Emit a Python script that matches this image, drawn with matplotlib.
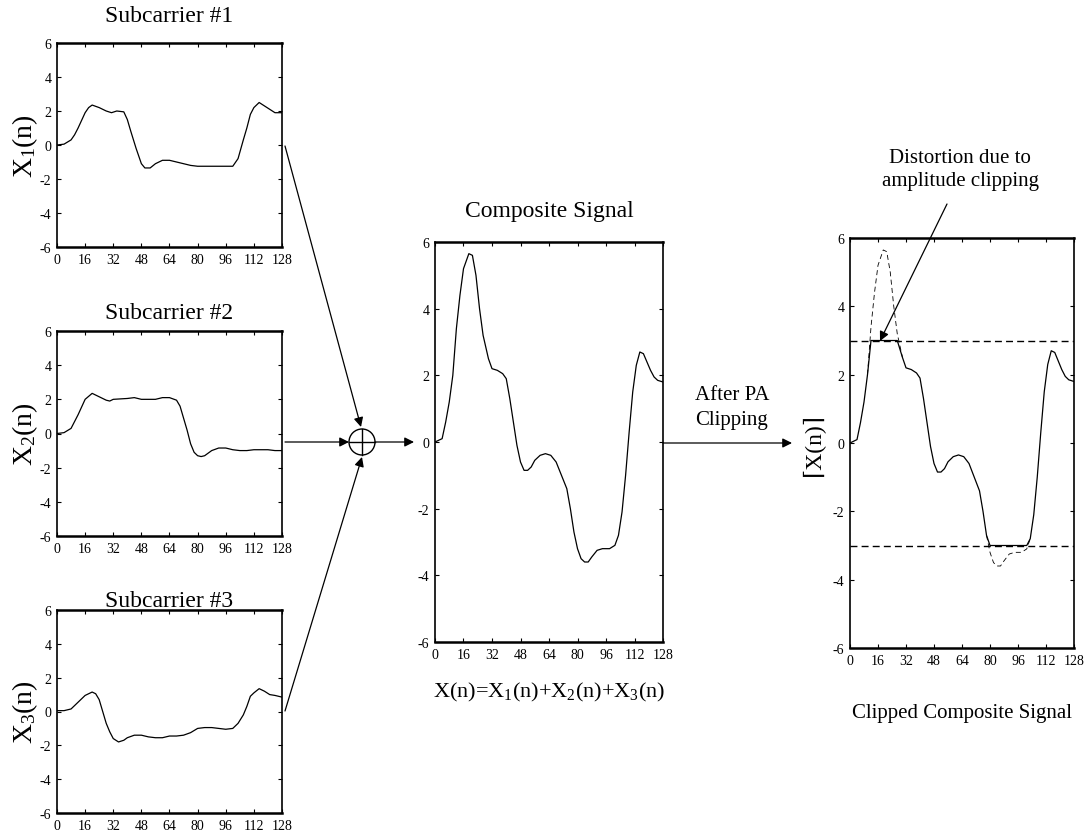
import numpy as np
import matplotlib
matplotlib.use('Agg')
import matplotlib.pyplot as plt
from matplotlib.patches import Circle

plt.rcParams['font.family'] = ['Liberation Serif', 'DejaVu Serif']
plt.rcParams['mathtext.fontset'] = 'custom'
plt.rcParams['mathtext.rm'] = 'Liberation Serif'
plt.rcParams['mathtext.it'] = 'Liberation Serif'
plt.rcParams['axes.unicode_minus'] = False

# subcarrier waveforms (sample index, amplitude)
n1 = [0, 4, 8, 10, 12, 16, 18, 20, 24, 28, 31, 34, 38, 40, 42, 45, 48, 50, 53, 56,
      60, 64, 68, 72, 76, 80, 88, 96, 100, 103, 106, 108, 110, 112, 115, 118, 121, 124, 128]
x1 = [0.0, 0.05, 0.3, 0.6, 1.0, 1.9, 2.2, 2.35, 2.2, 2.0, 1.9, 2.0, 1.95, 1.5, 0.8, -0.2,
      -1.1, -1.35, -1.35, -1.1, -0.9, -0.9, -1.0, -1.1, -1.2, -1.25, -1.25, -1.25, -1.25,
      -0.8, 0.3, 1.0, 1.8, 2.2, 2.5, 2.3, 2.1, 1.9, 1.9]

n2 = [0, 4, 8, 10, 12, 16, 20, 24, 28, 30, 32, 40, 44, 48, 56, 60, 64, 68, 70, 72, 74,
      76, 78, 80, 82, 84, 88, 92, 96, 100, 104, 108, 112, 116, 120, 124, 128]
x2 = [0.0, 0.05, 0.3, 0.7, 1.1, 2.0, 2.35, 2.15, 1.95, 1.9, 2.0, 2.05, 2.1, 2.0, 2.0,
      2.1, 2.1, 1.95, 1.6, 0.9, 0.2, -0.6, -1.1, -1.3, -1.35, -1.3, -1.0, -0.85, -0.85,
      -0.95, -1.0, -1.0, -0.95, -0.95, -0.95, -1.0, -1.0]

n3 = [0, 4, 8, 12, 16, 20, 22, 24, 26, 28, 30, 32, 35, 38, 40, 44, 48, 52, 56, 60, 64,
      68, 72, 76, 80, 84, 88, 92, 96, 100, 103, 106, 108, 110, 112, 115, 118, 121, 124, 128]
x3 = [0.05, 0.05, 0.15, 0.55, 0.95, 1.15, 1.05, 0.7, 0.0, -0.7, -1.2, -1.6, -1.8, -1.7,
      -1.55, -1.4, -1.4, -1.5, -1.55, -1.55, -1.45, -1.45, -1.4, -1.25, -1.0, -0.95,
      -0.95, -1.0, -1.05, -1.0, -0.7, -0.2, 0.3, 0.9, 1.1, 1.35, 1.2, 1.0, 0.95, 0.85]

# composite signal
nc = [0, 4, 6, 8, 10, 12, 14, 16, 19, 21, 23, 25, 27, 30, 32, 35, 38, 40, 42, 44, 46,
      48, 50, 52, 54, 56, 59, 62, 65, 68, 71, 74, 76, 78, 80, 82, 84, 86, 88, 91, 94,
      98, 101, 103, 105, 107, 109, 111, 113, 115, 117, 119, 121, 123, 125, 128]
xc = [0.0, 0.1, 0.6, 1.2, 2.0, 3.4, 4.4, 5.2, 5.65, 5.6, 5.0, 4.0, 3.2, 2.5, 2.2, 2.15,
      2.05, 1.9, 1.3, 0.6, -0.1, -0.6, -0.85, -0.85, -0.75, -0.55, -0.4, -0.35, -0.4,
      -0.6, -1.0, -1.4, -2.0, -2.7, -3.2, -3.5, -3.6, -3.6, -3.45, -3.25, -3.2, -3.2,
      -3.1, -2.8, -2.1, -1.0, 0.3, 1.5, 2.3, 2.7, 2.65, 2.4, 2.15, 1.95, 1.85, 1.8]

clip_level = 3.0
xticks = [0, 16, 32, 48, 64, 80, 96, 112, 128]
yticks = [-6, -4, -2, 0, 2, 4, 6]

W, H = 1092, 837
fig = plt.figure(figsize=(W / 100, H / 100), dpi=100)


def px_axes(l, t, r, b):
    return fig.add_axes([l / W, 1 - b / H, (r - l) / W, (b - t) / H])


def style(ax):
    ax.set_xlim(0, 128)
    ax.set_ylim(-6, 6)
    ax.set_xticks(xticks)
    ax.set_yticks(yticks)
    ax.tick_params(direction='in', length=3, width=0.8, top=True, right=True,
                   labelsize=10, pad=4)
    for side in ['left', 'right']:
        ax.spines[side].set_linewidth(1.2)
    for side in ['top', 'bottom']:
        ax.spines[side].set_linewidth(1.8)


subs = [(n1, x1, 44, 248, 'Subcarrier #1', r'X$_1$(n)', 16),
        (n2, x2, 332, 537, 'Subcarrier #2', r'X$_2$(n)', 9),
        (n3, x3, 611, 814, 'Subcarrier #3', r'X$_3$(n)', 3)]
for n, x, t, b, title, lab, tpad in subs:
    ax = px_axes(57, t, 282, b)
    ax.plot(n, x, color='k', lw=0.9)
    style(ax)
    ax.set_title(title, fontsize=17, pad=tpad)
    ax.set_ylabel(lab, fontsize=20, labelpad=0)

# composite
axc = px_axes(435, 243, 663, 643)
axc.plot(nc, xc, color='k', lw=0.9)
style(axc)
axc.set_title('Composite Signal', fontsize=17, pad=19)
axc.set_xlabel(r'X(n)=X$_1$(n)+X$_2$(n)+X$_3$(n)', fontsize=16, labelpad=14)

# clipped composite
nc_arr = np.array(nc, dtype=float)
xc_arr = np.array(xc)
axk = px_axes(850, 239, 1074, 649)
over = np.abs(xc_arr) > clip_level
keep = over | np.roll(over, 1) | np.roll(over, -1)
axk.plot(nc_arr, np.where(keep, xc_arr, np.nan), color='k', lw=0.6,
         dashes=(6, 4))
axk.plot(nc_arr, np.clip(xc_arr, -clip_level, clip_level), color='k', lw=0.9)
axk.axhline(clip_level, color='k', lw=1.0, dashes=(5, 3))
axk.axhline(-clip_level, color='k', lw=1.0, dashes=(5, 3))
style(axk)
axk.set_ylabel('\u2308X(n)\u2309', fontsize=17, labelpad=6)
axk.set_xlabel('Clipped Composite Signal', fontsize=15, labelpad=26)

# block diagram overlay in pixel coordinates
ov = fig.add_axes([0, 0, 1, 1], facecolor='none')
ov.set_xlim(0, W)
ov.set_ylim(H, 0)
ov.axis('off')

cx, cy, r = 362, 443, 13
ov.add_patch(Circle((cx, cy), r, fill=False, ec='k', lw=1.0))
ov.plot([cx - r, cx + r], [cy, cy], color='k', lw=1.0)
ov.plot([cx, cx], [cy - r, cy + r], color='k', lw=1.0)

arrow = dict(arrowstyle='-|>', color='k', lw=0.9, mutation_scale=14,
             shrinkA=0, shrinkB=0)
ov.annotate('', xy=(cx - 1, cy - r - 2), xytext=(285, 147), arrowprops=arrow)
ov.annotate('', xy=(cx - r, cy), xytext=(285, cy), arrowprops=arrow)
ov.annotate('', xy=(cx, cy + r + 2), xytext=(285, 712), arrowprops=arrow)
ov.annotate('', xy=(414, cy), xytext=(cx + r, cy), arrowprops=arrow)
ov.annotate('', xy=(792, cy + 1), xytext=(663, cy + 1), arrowprops=arrow)
ov.text(732, 408, 'After PA\nClipping', ha='center', va='center', fontsize=15,
        linespacing=1.45)

ov.text(960, 170, 'Distortion due to\namplitude clipping', ha='center',
        va='center', fontsize=15, linespacing=1.3)
ov.annotate('', xy=(880, 342), xytext=(947, 205), arrowprops=arrow)

fig.savefig('out.png', dpi=100)
